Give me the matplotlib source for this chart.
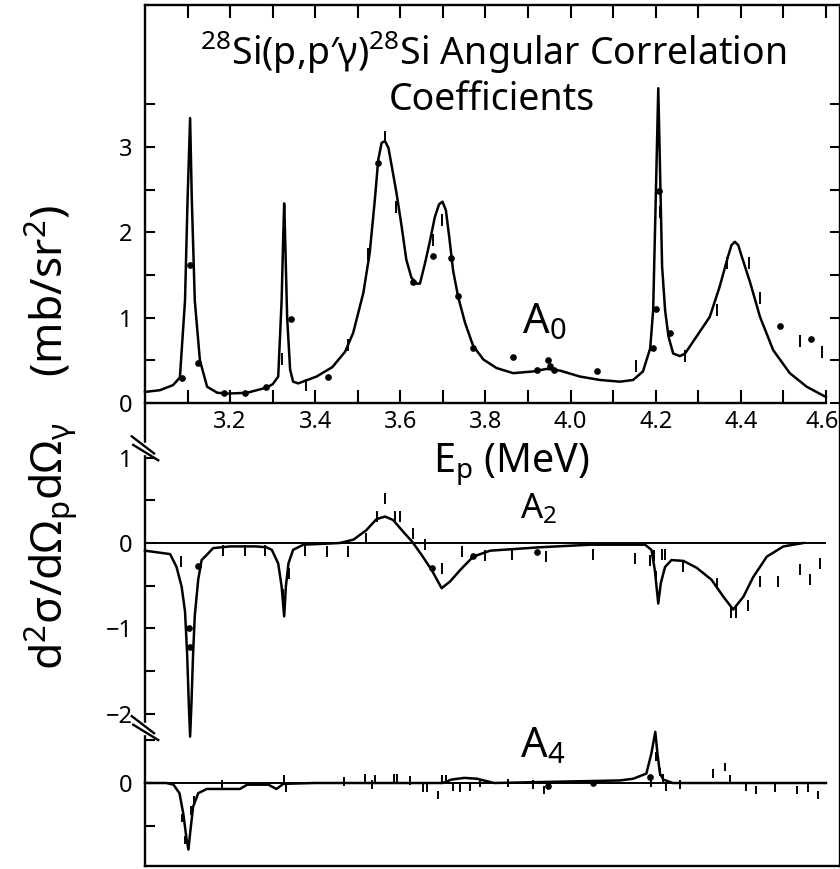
import matplotlib
matplotlib.use('Agg')
import matplotlib.pyplot as plt
import matplotlib.transforms as mtransforms
from matplotlib.ticker import FixedLocator, NullFormatter, FixedFormatter

FONT = 'Noto Sans'
plt.rcParams['font.family'] = [FONT, 'DejaVu Sans']
plt.rcParams['mathtext.fontset'] = 'custom'
plt.rcParams['mathtext.rm'] = FONT
plt.rcParams['mathtext.it'] = FONT
plt.rcParams['mathtext.bf'] = FONT

# ---------------- data ----------------
# A0 fitted curve
a0_curve_e = [3.000, 3.035, 3.066, 3.082, 3.094, 3.100, 3.106, 3.110, 3.117, 3.129, 3.146, 3.170,
              3.193, 3.240, 3.285, 3.300, 3.313, 3.321, 3.325, 3.327, 3.329, 3.334, 3.341, 3.348,
              3.360, 3.403, 3.440, 3.470, 3.489, 3.513, 3.528, 3.540, 3.548, 3.556, 3.564, 3.572,
              3.580, 3.591, 3.603, 3.614, 3.626, 3.638, 3.646, 3.658, 3.670, 3.681, 3.691, 3.699,
              3.707, 3.715, 3.724, 3.736, 3.752, 3.771, 3.795, 3.826, 3.865, 3.912, 3.944, 3.975,
              4.022, 4.069, 4.116, 4.147, 4.170, 4.187, 4.194, 4.200, 4.206, 4.210, 4.215, 4.222,
              4.230, 4.241, 4.257, 4.269, 4.296, 4.327, 4.350, 4.370, 4.378, 4.386, 4.394, 4.402,
              4.422, 4.445, 4.476, 4.515, 4.555, 4.600]
a0_curve_v = [0.13, 0.15, 0.21, 0.30, 1.20, 2.38, 3.34, 2.38, 1.20, 0.50, 0.19, 0.12,
              0.11, 0.12, 0.18, 0.22, 0.31, 1.20, 1.99, 2.34, 1.99, 1.00, 0.39, 0.25,
              0.23, 0.31, 0.42, 0.60, 0.82, 1.29, 1.76, 2.38, 2.85, 3.05, 3.07, 2.99,
              2.77, 2.46, 2.07, 1.68, 1.47, 1.40, 1.40, 1.64, 1.91, 2.18, 2.33, 2.36,
              2.26, 1.94, 1.55, 1.24, 0.94, 0.67, 0.51, 0.41, 0.35, 0.37, 0.40, 0.38,
              0.31, 0.27, 0.25, 0.27, 0.37, 0.64, 1.09, 2.38, 3.69, 2.77, 1.60, 1.09,
              0.78, 0.58, 0.55, 0.58, 0.78, 1.01, 1.36, 1.72, 1.85, 1.89, 1.85, 1.72,
              1.41, 1.01, 0.62, 0.35, 0.19, 0.07]
# A0 data: dots and error-bar points
a0_dot_e = [3.086, 3.106, 3.125, 3.186, 3.235, 3.284, 3.343, 3.431, 3.548, 3.630, 3.677, 3.720,
            3.736, 3.771, 3.865, 3.922, 3.948, 3.952, 3.960, 4.061, 4.193, 4.201, 4.207, 4.233,
            4.492, 4.566]
a0_dot_v = [0.29, 1.62, 0.47, 0.12, 0.12, 0.19, 0.99, 0.31, 2.81, 1.42, 1.72, 1.70,
            1.25, 0.64, 0.54, 0.39, 0.50, 0.43, 0.39, 0.38, 0.64, 1.10, 2.48, 0.82,
            0.90, 0.75]
a0_bar_e = [3.321, 3.378, 3.478, 3.525, 3.564, 3.590, 3.677, 3.699, 4.154, 4.210, 4.269, 4.343,
            4.367, 4.419, 4.445, 4.539, 4.590]
a0_bar_v = [0.52, 0.21, 0.68, 1.75, 3.12, 2.30, 1.91, 2.14, 0.43, 2.24, 0.55, 1.09,
            1.64, 1.64, 1.23, 0.73, 0.60]

# A2 fitted curve
a2_curve_e = [3.000, 3.059, 3.074, 3.086, 3.094, 3.099, 3.103, 3.106, 3.109, 3.113, 3.117, 3.125,
              3.133, 3.145, 3.160, 3.200, 3.260, 3.285, 3.298, 3.313, 3.321, 3.327, 3.331, 3.337,
              3.348, 3.372, 3.458, 3.490, 3.520, 3.544, 3.564, 3.583, 3.607, 3.627, 3.650, 3.674,
              3.697, 3.717, 3.740, 3.771, 3.811, 3.928, 4.046, 4.175, 4.190, 4.198, 4.206, 4.212,
              4.222, 4.237, 4.265, 4.296, 4.331, 4.359, 4.382, 4.406, 4.429, 4.461, 4.500, 4.547]
a2_curve_v = [-0.09, -0.13, -0.28, -0.51, -0.80, -1.30, -1.90, -2.27, -1.90, -1.30, -0.85, -0.43,
              -0.20, -0.14, -0.06, -0.04, -0.04, -0.05, -0.08, -0.24, -0.51, -0.86, -0.51, -0.24,
              -0.08, -0.02, 0.00, 0.04, 0.15, 0.28, 0.31, 0.27, 0.13, 0.02, -0.14, -0.32,
              -0.53, -0.45, -0.32, -0.16, -0.09, -0.05, -0.02, -0.02, -0.08, -0.32, -0.71, -0.47,
              -0.28, -0.20, -0.21, -0.29, -0.43, -0.63, -0.78, -0.63, -0.40, -0.16, -0.04, 0.00]
a2_dot_e = [3.103, 3.106, 3.125, 3.674, 3.771, 3.920]
a2_dot_v = [-1.00, -1.22, -0.27, -0.29, -0.15, -0.11]
a2_bar_e = [3.084, 3.184, 3.235, 3.282, 3.325, 3.338, 3.377, 3.427, 3.478, 3.520, 3.546, 3.564,
            3.587, 3.598, 3.630, 3.658, 3.697, 3.744, 3.799, 3.862, 3.942, 4.053, 4.151, 4.187,
            4.196, 4.201, 4.214, 4.222, 4.265, 4.343, 4.376, 4.388, 4.418, 4.445, 4.488, 4.539,
            4.562, 4.586]
a2_bar_v = [-0.22, -0.09, -0.09, -0.09, -0.60, -0.36, -0.09, -0.10, -0.10, 0.05, 0.31, 0.52,
            0.31, 0.31, 0.11, -0.02, -0.30, -0.10, -0.15, -0.14, -0.16, -0.14, -0.18, -0.20,
            -0.15, -0.39, -0.14, -0.14, -0.27, -0.47, -0.82, -0.82, -0.73, -0.45, -0.45, -0.31,
            -0.43, -0.24]

# A4 fitted curve
a4_curve_e = [3.000, 3.050, 3.067, 3.081, 3.090, 3.098, 3.102, 3.106, 3.113, 3.125, 3.145, 3.223,
              3.240, 3.290, 3.309, 3.325, 3.400, 3.700, 3.720, 3.750, 3.780, 3.820, 4.116, 4.147,
              4.178, 4.190, 4.199, 4.204, 4.210, 4.218, 4.240, 4.600]
a4_curve_v = [0.00, 0.00, -0.02, -0.12, -0.36, -0.67, -0.78, -0.59, -0.28, -0.12, -0.07, -0.07,
              -0.02, -0.02, -0.07, -0.01, 0.00, 0.00, 0.04, 0.06, 0.05, 0.00, 0.03, 0.05,
              0.11, 0.35, 0.60, 0.35, 0.11, 0.04, 0.00, 0.00]
a4_dot_e = [3.948, 4.053, 4.187]
a4_dot_v = [-0.04, 0.00, 0.07]
a4_bar_e = [3.088, 3.094, 3.108, 3.115, 3.180, 3.327, 3.331, 3.468, 3.517, 3.533, 3.540, 3.585,
            3.591, 3.623, 3.654, 3.663, 3.689, 3.697, 3.707, 3.724, 3.739, 3.764, 3.787, 3.854,
            3.912, 3.938, 4.190, 4.201, 4.210, 4.216, 4.224, 4.257, 4.335, 4.363, 4.375, 4.412,
            4.436, 4.480, 4.531, 4.558, 4.581]
a4_bar_v = [-0.41, -0.67, -0.32, -0.20, -0.02, 0.04, -0.06, 0.02, 0.06, -0.02, 0.04, 0.06,
            0.06, 0.03, -0.06, -0.05, -0.14, 0.04, 0.04, -0.04, -0.06, -0.04, 0.00, 0.00,
            -0.02, -0.08, 0.00, 0.31, 0.13, 0.05, -0.04, -0.02, 0.11, 0.19, 0.04, -0.04,
            -0.08, -0.06, -0.08, -0.06, -0.14]

# axis ticks / labels
x_major = [3.2, 3.4, 3.6, 3.8, 4.0, 4.2, 4.4, 4.6]
x_major_labels = ['3.2', '3.4', '3.6', '3.8', '4.0', '4.2', '4.4', '4.6']
x_minor = [3.1, 3.3, 3.5, 3.7, 3.9, 4.1, 4.3, 4.5]
x_end = 4.6
a0_major = [0, 1, 2, 3]
a0_minor = [0.5, 1.5, 2.5, 3.5]
a2_major = [-2, -1, 0, 1]
a2_minor = [-1.5, -0.5, 0.5]
a4_major = [0]
a4_minor = [-0.5, 0.5]

# ---------------- layout ----------------
W, H = 840, 869
fig = plt.figure(figsize=(W / 100, H / 100), dpi=100)


def rect(x0, y0, x1, y1):
    return [x0 / W, 1 - y1 / H, (x1 - x0) / W, (y1 - y0) / H]


PXU = 85.3           # pixels per unit on every panel
XLIM = (3.0, 4.633)
LW = 1.7
TICK_FS = 17

# outer frame
ax_f = fig.add_axes(rect(145, 5, 840, 866))
ax_f.set_xlim(*XLIM)
ax_f.set_ylim(0, 1)
ax_f.set_xticks([])
ax_f.set_yticks([])
for s in ax_f.spines.values():
    s.set_linewidth(LW)


def panel(y_top, y_bot, y_zero):
    ax = fig.add_axes(rect(145, y_top, 840, y_bot))
    ax.patch.set_alpha(0)
    ax.set_xlim(*XLIM)
    ax.set_ylim((y_zero - y_bot) / PXU, (y_zero - y_top) / PXU)
    for s in ax.spines.values():
        s.set_visible(False)
    return ax


ax0 = panel(5, 403, 403)
ax2 = panel(420, 770, 543)
ax4 = panel(735, 866, 783)

# A0 panel axes
ax0.spines['bottom'].set_visible(True)
ax0.spines['bottom'].set_linewidth(LW)
ax0.spines['bottom'].set_bounds(XLIM[0], x_end)
ax0.xaxis.set_major_locator(FixedLocator(x_major))
ax0.xaxis.set_major_formatter(FixedFormatter(x_major_labels))
ax0.xaxis.set_minor_locator(FixedLocator(x_minor))
ax0.tick_params(axis='x', which='both', direction='in', length=9.5, width=1.5,
                top=True, bottom=True, labelsize=TICK_FS, pad=5)
ax0.yaxis.set_major_locator(FixedLocator(a0_major))
ax0.yaxis.set_minor_locator(FixedLocator(a0_minor))
ax0.yaxis.set_minor_formatter(NullFormatter())
ax0.tick_params(axis='y', which='both', direction='in', length=7.5, width=1.5,
                left=True, right=True, labelsize=TICK_FS, pad=9)

for ax, maj, mnr in ((ax2, a2_major, a2_minor), (ax4, a4_major, a4_minor)):
    ax.set_xticks([])
    ax.yaxis.set_major_locator(FixedLocator(maj))
    ax.yaxis.set_minor_locator(FixedLocator(mnr))
    ax.yaxis.set_minor_formatter(NullFormatter())
    ax.tick_params(axis='y', which='both', direction='in', length=7.5, width=1.5,
                   left=True, right=False, labelsize=TICK_FS, pad=9)

# zero lines
ax2.hlines(0, XLIM[0], x_end, color='black', lw=1.4)
ax4.hlines(0, XLIM[0], x_end, color='black', lw=1.4)

# curves, dots, bars
for ax, ce, cv, de, dv, be, bv, err in (
        (ax0, a0_curve_e, a0_curve_v, a0_dot_e, a0_dot_v, a0_bar_e, a0_bar_v, 0.07),
        (ax2, a2_curve_e, a2_curve_v, a2_dot_e, a2_dot_v, a2_bar_e, a2_bar_v, 0.065),
        (ax4, a4_curve_e, a4_curve_v, a4_dot_e, a4_dot_v, a4_bar_e, a4_bar_v, 0.05)):
    ax.plot(ce, cv, color='black', lw=1.8, solid_joinstyle='round', clip_on=False)
    ax.plot(de, dv, 'o', color='black', ms=3.8, clip_on=False)
    ax.errorbar(be, bv, yerr=err, fmt='none', ecolor='black', elinewidth=1.4, capsize=0,
                clip_on=False)

# axis breaks on the left spine
tr = ax2.get_yaxis_transform()
for yc in (1.11, -2.17):
    ax2.fill([-0.004, 0.004, 0.004, -0.004], [yc + 0.06, yc + 0.06, yc - 0.07, yc - 0.07],
             color='white', transform=tr, clip_on=False, zorder=5)
    ax2.plot([-0.019, 0.013], [yc + 0.14, yc - 0.06], color='black', lw=1.7,
             transform=tr, clip_on=False, zorder=6)
    ax2.plot([-0.017, 0.019], [yc + 0.04, yc - 0.14], color='black', lw=1.7,
             transform=tr, clip_on=False, zorder=6)

# ---------------- text ----------------
BIG = 27
fig.text(493 / W, 1 - 65 / H, r'$^{28}$Si(p,p′γ)$^{28}$Si Angular Correlation',
         ha='center', va='baseline', fontsize=BIG)
fig.text(492 / W, 1 - 110 / H, 'Coefficients', ha='center', va='baseline', fontsize=BIG)
fig.text(433 / W, 1 - 472 / H, r'E$_\mathrm{p}$ (MeV)', ha='left', va='baseline', fontsize=28.5)
fig.text(522 / W, 1 - 333 / H, r'A$_0$', ha='left', va='baseline', fontsize=30)
fig.text(520 / W, 1 - 518 / H, r'A$_2$', ha='left', va='baseline', fontsize=25)
fig.text(520 / W, 1 - 757 / H, r'A$_4$', ha='left', va='baseline', fontsize=30)
fig.text(63 / W, 1 - 437 / H, r'd$^2$σ/dΩ$_\mathrm{p}$dΩ$_γ$    (mb/sr$^2$)',
         rotation=90, rotation_mode='anchor', ha='center', va='baseline', fontsize=32)

# keep the last x tick label inside the picture
fig.canvas.draw()
last = ax0.xaxis.get_major_ticks()[-1].label1
last.set_transform(last.get_transform() +
                   mtransforms.ScaledTranslation(-4 / 100, 0, fig.dpi_scale_trans))

fig.savefig('out.png', dpi=100)
